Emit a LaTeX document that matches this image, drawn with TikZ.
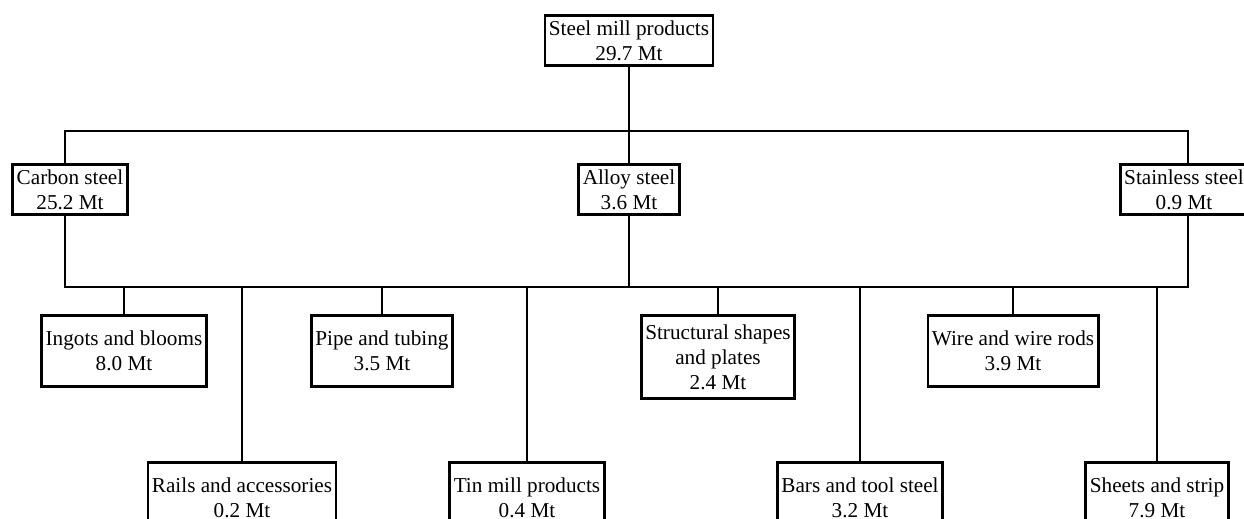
\documentclass[tikz,border=0pt]{standalone}
\usepackage{fontspec}
\setmainfont{Liberation Serif}
\begin{document}
\begin{tikzpicture}[x=0.5pt,y=-0.5pt,
    box/.style={draw,line width=1.4pt,align=center,font=\fontsize{10.6}{12.5}\selectfont,inner xsep=2pt,inner ysep=2.6pt},
    itembox/.style={box,anchor=north,inner ysep=4.5pt,minimum height=35.5pt},
    link/.style={line width=1.4pt}]
    \useasboundingbox (0,0) rectangle (1244,519);

    % bus lines
    \coordinate (b1L) at (65,131);
    \coordinate (b1R) at (1188,131);
    \coordinate (b2L) at (65,287);
    \coordinate (b2R) at (1188,287);

    % top and steel grades
    \node[box] (mill) at (629,40.5) {Steel mill products\\29.7 Mt};
    \node[box] (carbon) at (70,189.5) {Carbon steel\\25.2 Mt};
    \node[box] (alloy) at (629,189.5) {Alloy steel\\3.6 Mt};
    \node[box] (stainless) at (1184,189.5) {Stainless steel\\0.9 Mt};

    \draw[link] (mill.south) -- (mill.south |- b1L);
    \draw[link] (carbon.north -| b1L) -- (b1L) -- (b1R) -- (stainless.north -| b1R);
    \draw[link] (carbon.south -| b2L) -- (b2L) -- (b2R) -- (stainless.south -| b2R);
    \draw[link] (alloy.north) -- (alloy.north |- b1L);
    \draw[link] (alloy.south) -- (alloy.south |- b2L);

    % product forms
    \foreach \name/\xpos/\ypos/\txt in {
        ingots/124/314/{Ingots and blooms\\8.0 Mt},
        rails/242/461/{Rails and accessories\\0.2 Mt},
        pipe/382/314/{Pipe and tubing\\3.5 Mt},
        tin/527/461/{Tin mill products\\0.4 Mt},
        shapes/718/314/{Structural shapes\\and plates\\2.4 Mt},
        bars/860/461/{Bars and tool steel\\3.2 Mt},
        wire/1013/314/{Wire and wire rods\\3.9 Mt},
        sheets/1157/461/{Sheets and strip\\7.9 Mt}}{
        \node[itembox] (\name) at (\xpos,\ypos) {\txt};
        \draw[link] (\name.north) -- (\name.north |- b2L);
    }
\end{tikzpicture}
\end{document}
